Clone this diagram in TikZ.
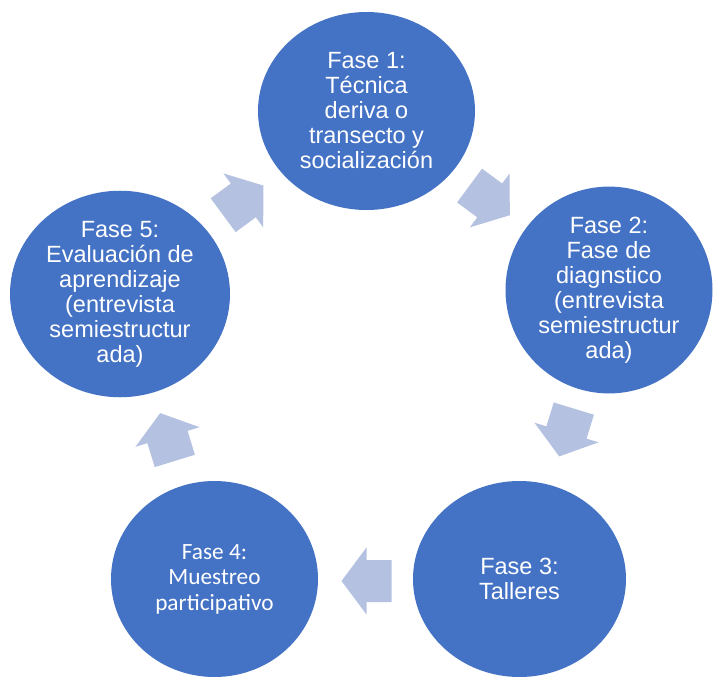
\documentclass[tikz,border=0pt]{standalone}
\usepackage{fontspec}
\setmainfont{Liberation Sans}
\newfontfamily\arialfont{Liberation Sans}
\newfontfamily\carlitofont{Carlito}
\usetikzlibrary{shapes.geometric}
\definecolor{phaseblue}{RGB}{68,114,196}
\definecolor{arrowlav}{RGB}{180,193,225}
\tikzset{
  phase/.style={ellipse, fill=phaseblue, inner sep=0pt, text=white, align=center,
    font=\arialfont\fontsize{23.5}{25}\selectfont},
  phasecal/.style={phase, font=\carlitofont\fontsize{23.3}{25.5}\selectfont},
  blockarrow/.style={fill=arrowlav}
}
\newcommand\cyclearrow[3]{%
  \fill[blockarrow, shift={(#1,#2)}, rotate=#3]
    (-25,-21) -- (0,-21) -- (0,-33.5) -- (25,0) -- (0,33.5) -- (0,21) -- (-25,21) -- cycle;}
\begin{document}
\begin{tikzpicture}[x=1pt,y=-1pt]
  \useasboundingbox (0,0) rectangle (713,677);
  \clip (0,0) rectangle (713,677);
  \fill[white] (0,0) rectangle (713,677);

  \node[phase, minimum width=217pt, minimum height=198pt] (f1) at (366.5,111)
    {Fase 1:\\Técnica\\deriva o\\transecto y\\socialización};
  \node[phase, minimum width=207pt, minimum height=194pt] (f2) at (609,290)
    {Fase 2:\\Fase de\\diagnstico\\(entrevista\\semiestructur\\ada)};
  \node[phase, minimum width=213pt, minimum height=196pt] (f3) at (519.5,579)
    {Fase 3:\\Talleres};
  \node[phasecal, minimum width=207pt, minimum height=196pt] (f4) at (214.5,579)
    {Fase 4:\\Muestreo\\participativo};
  \node[phase, minimum width=220pt, minimum height=190pt] (f5) at (120,294)
    {Fase 5:\\Evaluación de\\aprendizaje\\(entrevista\\semiestructur\\ada)};

  \cyclearrow{489.7}{200.4}{-36.4}
  \cyclearrow{566.5}{432.5}{-107}
  \cyclearrow{366.5}{581}{180}
  \cyclearrow{167.5}{437}{107}
  \cyclearrow{243.3}{200.4}{36.4}
\end{tikzpicture}
\end{document}
